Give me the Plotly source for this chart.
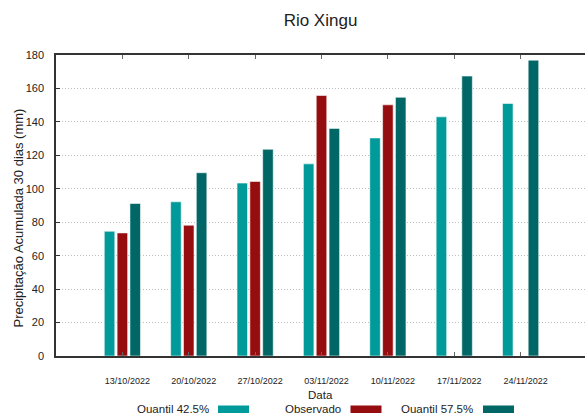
import plotly.graph_objects as go

# dados
datas = ["13/10/2022", "20/10/2022", "27/10/2022", "03/11/2022",
         "10/11/2022", "17/11/2022", "24/11/2022"]
quantil_425 = [74.6, 92.2, 103.4, 114.9, 130.4, 143.0, 151.0]
observado = [73.6, 78.2, 104.4, 155.8, 150.2, None, None]
quantil_575 = [91.2, 109.6, 123.6, 136.1, 154.7, 167.4, 176.9]

nomes = ["Quantil 42.5%", "Observado", "Quantil 57.5%"]
cores = ["#009a9a", "#960d0f", "#006766"]

W, H = 585, 413
ML, MT, MB = 56, 55, 57
plot_h = H - MT - MB
plot_w = W - ML

fonte = "Liberation Sans, Arial, sans-serif"


def px_x(x):
    return (x - ML) / plot_w


def px_y(y):
    return (H - MB - y) / plot_h


fig = go.Figure()
for nome, cor, vals in zip(nomes, cores, [quantil_425, observado, quantil_575]):
    fig.add_trace(go.Bar(
        x=datas, y=vals, name=nome,
        marker=dict(color=cor, line=dict(color="rgba(255,255,255,0.55)", width=1)),
        showlegend=False,
    ))

# legenda no estilo gnuplot: texto e depois a amostra de cor
annotations = []
shapes = []
for i, (nome, cor) in enumerate(zip(nomes, cores)):
    x_txt = 211 + i * 132
    x_box = 218 + i * 132.5
    annotations.append(dict(
        text=nome, x=px_x(x_txt), y=px_y(409), xref="paper", yref="paper",
        xanchor="right", yanchor="middle", showarrow=False,
        font=dict(family=fonte, size=11.5, color="#222"),
    ))
    shapes.append(dict(
        type="rect", xref="paper", yref="paper",
        x0=px_x(x_box), x1=px_x(x_box + 31), y0=px_y(405.5), y1=px_y(417),
        fillcolor=cor, line=dict(width=0),
    ))

annotations.append(dict(
    text="Data", x=px_x(320), y=px_y(395), xref="paper", yref="paper",
    xanchor="center", yanchor="middle", showarrow=False,
    font=dict(family=fonte, size=11.5, color="#222"),
))
annotations.append(dict(
    text="Precipitação Acumulada 30 dias (mm)", x=px_x(17.5), y=px_y(218),
    xref="paper", yref="paper", xanchor="center", yanchor="middle",
    textangle=-90, showarrow=False,
    font=dict(family=fonte, size=13, color="#222"),
))

fig.update_layout(
    width=W, height=H,
    margin=dict(l=ML, r=0, t=MT, b=MB, pad=0),
    plot_bgcolor="white", paper_bgcolor="white",
    barmode="group", bargap=0.42, bargroupgap=0.18,
    title=dict(text="Rio Xingu", x=0.5, xref="paper", xanchor="center",
               y=1 - 19.7 / H, yanchor="middle",
               font=dict(family=fonte, size=17, color="#222")),
    annotations=annotations,
    shapes=shapes,
)
fig.update_xaxes(
    type="category", range=[-1, 6.97],
    showline=True, linecolor="#333", linewidth=1.5, mirror="ticks",
    ticks="inside", ticklen=4, tickcolor="#666", tickwidth=1,
    showgrid=False,
    tickfont=dict(family=fonte, size=9, color="#222"),
    ticklabelstandoff=15, ticklabelshift=5,
)
fig.update_yaxes(
    range=[0, 180], dtick=20,
    showline=True, linecolor="#333", linewidth=1.5,
    ticks="inside", ticklen=4, tickcolor="#333",
    showgrid=True, gridcolor="#bcbcbc", griddash="1px,2px", gridwidth=1,
    zeroline=False,
    tickfont=dict(family=fonte, size=11, color="#222"),
    ticklabelstandoff=8,
)

fig.write_html("out.html", config={"displayModeBar": False},
               post_script="document.body.style.margin='0';")
